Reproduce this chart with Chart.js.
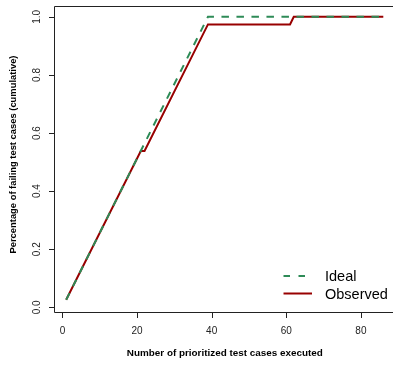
<!DOCTYPE html>
<html lang="en">
<head>
    <meta charset="UTF-8">
    <title>Prioritized test cases</title>
    <script src="https://cdn.jsdelivr.net/npm/chart.js"></script>
    <style>
        html, body { margin: 0; padding: 0; background: #fff; overflow: hidden; }
    </style>
</head>
<body>
    <canvas id="apfdChart" width="393" height="365"></canvas>

    <script>
        // Curve vertices
        const idealX = [1, 39, 86];
        const idealY = [0.026, 1.0, 1.0];
        const observedX = [1, 21, 22, 39, 61, 62, 86];
        const observedY = [0.026, 0.538, 0.538, 0.974, 0.974, 1.0, 1.0];

        const xTicks = [0, 20, 40, 60, 80];
        const yTicks = [0, 0.2, 0.4, 0.6, 0.8, 1.0];
        const yTickLabels = ['0.0', '0.2', '0.4', '0.6', '0.8', '1.0'];

        const GREEN = '#2E8B57';
        const RED = '#980000';
        const FONT = '"Liberation Sans", Arial, Helvetica, sans-serif';

        const toPoints = (xs, ys) => xs.map((x, i) => ({ x: x, y: ys[i] }));

        // Box, ticks, labels, titles and legend drawn R-style
        const rFrame = {
            id: 'rFrame',
            afterDraw(chart) {
                const ctx = chart.ctx;
                const area = chart.chartArea;
                const xs = chart.scales.x;
                const ys = chart.scales.y;
                const left = Math.round(area.left) + 0.5;
                const top = Math.round(area.top) + 0.5;
                const bottom = Math.round(area.bottom) + 0.5;
                ctx.save();
                ctx.strokeStyle = '#222';
                ctx.lineWidth = 1;
                // box (right edge falls outside the picture)
                ctx.beginPath();
                ctx.moveTo(chart.width, top);
                ctx.lineTo(left, top);
                ctx.lineTo(left, bottom);
                ctx.lineTo(chart.width, bottom);
                ctx.stroke();

                ctx.fillStyle = '#222';
                ctx.font = '10px ' + FONT;
                // x axis ticks
                ctx.beginPath();
                xTicks.forEach(v => {
                    const px = Math.round(xs.getPixelForValue(v)) + 0.5;
                    ctx.moveTo(px, bottom);
                    ctx.lineTo(px, bottom + 5.5);
                });
                ctx.stroke();
                ctx.textAlign = 'center';
                ctx.textBaseline = 'middle';
                xTicks.forEach(v => {
                    ctx.fillText(String(v), xs.getPixelForValue(v), 331);
                });

                // y axis ticks
                ctx.beginPath();
                yTicks.forEach(v => {
                    const py = Math.round(ys.getPixelForValue(v)) + 0.5;
                    ctx.moveTo(left, py);
                    ctx.lineTo(left - 5.5, py);
                });
                ctx.stroke();
                yTicks.forEach((v, i) => {
                    ctx.save();
                    ctx.translate(37.5, ys.getPixelForValue(v));
                    ctx.rotate(-Math.PI / 2);
                    ctx.fillText(yTickLabels[i], 0, 0);
                    ctx.restore();
                });

                // axis titles
                ctx.fillStyle = '#000';
                ctx.font = 'bold 9.9px ' + FONT;
                ctx.fillText('Number of prioritized test cases executed', 224.8, 353);
                ctx.font = 'bold 9.4px ' + FONT;
                ctx.save();
                ctx.translate(13.5, 154.5);
                ctx.rotate(-Math.PI / 2);
                ctx.fillText('Percentage of failing test cases (cumulative)', 0, 0);
                ctx.restore();

                // legend
                ctx.lineWidth = 2;
                ctx.strokeStyle = GREEN;
                ctx.setLineDash([6.5, 8.5]);
                ctx.beginPath();
                ctx.moveTo(283.5, 276);
                ctx.lineTo(312, 276);
                ctx.stroke();
                ctx.setLineDash([]);
                ctx.strokeStyle = RED;
                ctx.beginPath();
                ctx.moveTo(283.5, 293.5);
                ctx.lineTo(312, 293.5);
                ctx.stroke();
                ctx.fillStyle = '#000';
                ctx.font = '14.5px ' + FONT;
                ctx.textAlign = 'left';
                ctx.fillText('Ideal', 325, 277);
                ctx.fillText('Observed', 325, 295);
                ctx.restore();
            }
        };

        const ctx = document.getElementById('apfdChart').getContext('2d');
        const apfdChart = new Chart(ctx, {
            type: 'line',
            data: {
                datasets: [
                    {
                        label: 'Ideal',
                        data: toPoints(idealX, idealY),
                        borderColor: GREEN,
                        borderWidth: 2,
                        borderDash: [7.5, 7.5],
                        pointRadius: 0,
                        fill: false,
                        tension: 0,
                        order: 0
                    },
                    {
                        label: 'Observed',
                        data: toPoints(observedX, observedY),
                        borderColor: RED,
                        borderWidth: 2,
                        pointRadius: 0,
                        fill: false,
                        tension: 0,
                        order: 1
                    }
                ]
            },
            options: {
                responsive: false,
                animation: false,
                layout: { padding: { top: 5.5, right: 0, left: 0, bottom: 0 } },
                plugins: {
                    legend: { display: false },
                    tooltip: { enabled: false }
                },
                scales: {
                    x: {
                        type: 'linear',
                        min: -2.4,
                        max: 88.6,
                        grid: { display: false },
                        border: { display: false },
                        ticks: { display: false },
                        afterFit: scale => { scale.height = 53; }
                    },
                    y: {
                        type: 'linear',
                        min: -0.016,
                        max: 1.039,
                        grid: { display: false },
                        border: { display: false },
                        ticks: { display: false },
                        afterFit: scale => { scale.width = 53.5; }
                    }
                }
            },
            plugins: [rFrame]
        });
    </script>
</body>
</html>
